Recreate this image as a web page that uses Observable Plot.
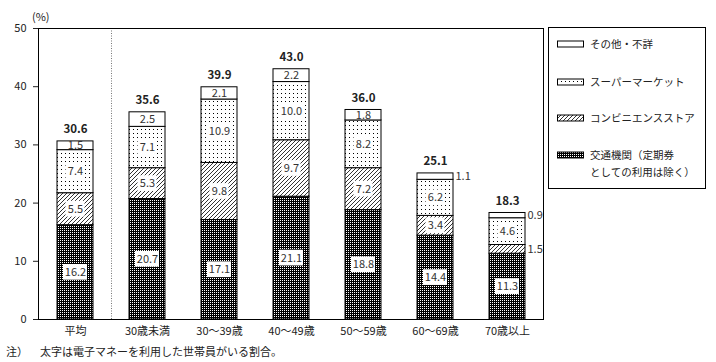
<!DOCTYPE html>
<html><head><meta charset="utf-8">
<script src="https://cdn.jsdelivr.net/npm/d3@7"></script>
<script src="https://cdn.jsdelivr.net/npm/@observablehq/plot@0.6"></script>
<style>body{margin:0;background:#fff} svg{display:block}</style>
</head><body><div id="chart"></div>
<script>
const categories = ["平均","30歳未満","30～39歳","40～49歳","50～59歳","60～69歳","70歳以上"];
const transport   = [16.2, 20.7, 17.1, 21.1, 18.8, 14.4, 11.3];
const convenience = [5.5, 5.3, 9.8, 9.7, 7.2, 3.4, 1.5];
const supermarket = [7.4, 7.1, 10.9, 10.0, 8.2, 6.2, 4.6];
const other       = [1.5, 2.5, 2.1, 2.2, 1.8, 1.1, 0.9];
const totals      = [30.6, 35.6, 39.9, 43.0, 36.0, 25.1, 18.3];
const seriesNames = ["交通機関（定期券としての利用は除く）","コンビニエンスストア","スーパーマーケット","その他・不詳"];
const yTicks = [0, 10, 20, 30, 40, 50];
const yUnit = "(%)";
const noteHead = "注）";
const noteText = "太字は電子マネーを利用した世帯員がいる割合。";

const patternIds = ["p-transport", "p-conv", "p-super", null];
const seriesValues = [transport, convenience, supermarket, other];

const segs = [];
categories.forEach((c, i) => {
  let base = 0;
  seriesValues.forEach((vals, s) => {
    const v = vals[i];
    segs.push({cat: c, s, v, y1: base, y2: base + v, mid: base + v / 2,
      label: v.toFixed(1),
      fill: patternIds[s] ? `url(#${patternIds[s]})` : "white"});
    base += v;
  });
});
const isOutside = d => (d.s === 3 && d.v < 1.5) || (d.s !== 3 && d.v < 2);
const inside = segs.filter(d => !isOutside(d));
const outside = segs.filter(isOutside);
const boxed = inside.filter(d => d.s !== 3);
const totalData = categories.map((c, i) => ({cat: c, total: totals[i]}));

const font = "'Noto Sans CJK JP', 'Noto Sans', sans-serif";
const svg = Plot.plot({
  width: 716, height: 362,
  marginLeft: 38, marginRight: 173, marginTop: 28, marginBottom: 43,
  style: {fontFamily: font, fontSize: "11px", color: "#222", background: "white"},
  x: {domain: categories, paddingInner: 0.5, paddingOuter: 0.25, label: null, tickSize: 0, tickPadding: 8},
  y: {domain: [0, 50], ticks: yTicks, tickSize: 5, tickPadding: 7, label: null},
  color: {type: "identity"},
  marks: [
    Plot.ruleX([categories[0]], {dx: 36, stroke: "#777", strokeDasharray: "1,1.5"}),
    Plot.barY(segs, {x: "cat", y1: "y1", y2: "y2", fill: "fill", stroke: "black", strokeWidth: 1}),
    Plot.barY(boxed.filter(d => d.label.length >= 4), {x: "cat", y1: d => d.mid - 1.35, y2: d => d.mid + 1.35, fill: "white", insetLeft: 6, insetRight: 6}),
    Plot.barY(boxed.filter(d => d.label.length < 4), {x: "cat", y1: d => d.mid - 1.35, y2: d => d.mid + 1.35, fill: "white", insetLeft: 8.5, insetRight: 8.5}),
    Plot.text(inside, {x: "cat", y: "mid", text: "label", fill: "#333", fontSize: 11}),
    Plot.text(outside, {x: "cat", y: "mid", text: "label", fill: "#333", fontSize: 11, textAnchor: "start", dx: 20}),
    Plot.text(totalData, {x: "cat", y: "total", text: d => d.total.toFixed(1), dy: -12, fontWeight: "bold", fontSize: 11.5, fill: "#222"}),
    Plot.frame({stroke: "black"})
  ]
});

const root = d3.select(svg);
const defs = root.insert("defs", ":first-child");
const p1 = defs.append("pattern").attr("id", "p-transport").attr("patternUnits", "userSpaceOnUse").attr("width", 2).attr("height", 2);
p1.append("rect").attr("width", 2).attr("height", 2).attr("fill", "#000");
p1.append("rect").attr("width", 1).attr("height", 1).attr("fill", "#fff");
const p2 = defs.append("pattern").attr("id", "p-conv").attr("patternUnits", "userSpaceOnUse").attr("width", 4).attr("height", 4);
p2.append("rect").attr("width", 4).attr("height", 4).attr("fill", "#fff");
p2.append("path").attr("d", "M-1,1 l2,-2 M0,4 l4,-4 M3,5 l2,-2").attr("stroke", "#000").attr("stroke-width", 0.8);
const p3 = defs.append("pattern").attr("id", "p-super").attr("patternUnits", "userSpaceOnUse").attr("width", 4).attr("height", 4);
p3.append("rect").attr("width", 4).attr("height", 4).attr("fill", "#fff");
p3.append("rect").attr("x", 1).attr("y", 1).attr("width", 1).attr("height", 1).attr("fill", "#000");

// legend
const lg = root.append("g").attr("font-family", font).attr("font-size", 10.5).attr("fill", "#222").attr("text-anchor", "start");
lg.append("rect").attr("x", 548.5).attr("y", 27.5).attr("width", 157).attr("height", 161).attr("fill", "white").attr("stroke", "black");
const legendItems = [
  {name: seriesNames[3], fill: "white", y: 44},
  {name: seriesNames[2], fill: "url(#p-super)", y: 82},
  {name: seriesNames[1], fill: "url(#p-conv)", y: 118},
  {name: seriesNames[0], fill: "url(#p-transport)", y: 155}
];
legendItems.forEach(it => {
  lg.append("rect").attr("x", 557.5).attr("y", it.y - 3).attr("width", 26).attr("height", 6).attr("fill", it.fill).attr("stroke", "black");
  if (it.name === seriesNames[0]) {
    lg.append("text").attr("x", 590).attr("y", it.y).attr("dy", "0.35em").text("交通機関（定期券");
    lg.append("text").attr("x", 590).attr("y", it.y + 17).attr("dy", "0.35em").text("としての利用は除く）");
  } else {
    lg.append("text").attr("x", 590).attr("y", it.y).attr("dy", "0.35em").text(it.name);
  }
});
// unit and note
const tg = root.append("g").attr("font-family", font).attr("font-size", 11).attr("fill", "#222").attr("text-anchor", "start");
tg.append("text").attr("x", 32).attr("y", 17).attr("dy", "0.35em").text(yUnit);
tg.append("text").attr("x", 6).attr("y", 352).attr("dy", "0.35em").text(noteHead);
tg.append("text").attr("x", 40).attr("y", 352).attr("dy", "0.35em").text(noteText);

document.getElementById("chart").appendChild(svg);
</script></body></html>
